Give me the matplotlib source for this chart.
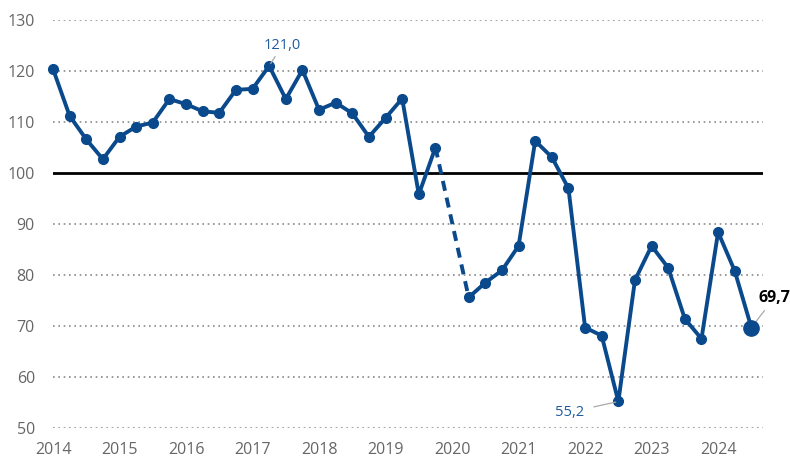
import numpy as np
import matplotlib
matplotlib.use("Agg")
import matplotlib.pyplot as plt

plt.rcParams['font.family'] = ['Open Sans', 'DejaVu Sans']

years = [2014, 2015, 2016, 2017, 2018, 2019, 2020, 2021, 2022, 2023, 2024]
# quarterly values, 2014 Q1 .. 2024 Q3 (2020 Q1 missing)
values = [120.4, 111.2, 106.6, 102.7,
          107.1, 109.1, 109.9, 114.5,
          113.5, 112.1, 111.8, 116.3,
          116.5, 121.0, 114.5, 120.2,
          112.4, 113.8, 111.7, 107.1,
          110.8, 114.6, 95.8, 105.0,
          np.nan, 75.6, 78.5, 80.9,
          85.7, 106.3, 103.1, 97.0,
          69.7, 68.1, 55.2, 79.0,
          85.7, 81.4, 71.4, 67.5,
          88.4, 80.8, 69.7]
yticks = [50, 60, 70, 80, 90, 100, 110, 120, 130]
reference = 100

blue = '#0a4a8c'
x = np.arange(len(values))
v = np.array(values)

fig = plt.figure(figsize=(7.9, 4.59), dpi=100)
ax = fig.add_axes([53/790, (459-428)/459, (763-53)/790, (428-20)/459])
ax.set_xlim(0, 42.7)
ax.set_ylim(50, 130)

for t in yticks:
    if t == reference:
        continue
    ax.axhline(t, color='#8a8a8a', lw=1.2, ls=(0, (1, 2.2)), zorder=1)
ax.axhline(reference, color='black', lw=2, zorder=2)

ax.plot(x, v, color=blue, lw=2.8, marker='o', ms=7, zorder=3,
        solid_joinstyle='round', clip_on=False)
# dashed bridge over the missing quarter
gi = np.where(np.isnan(v))[0][0]
ax.plot([gi-1, gi+1], [v[gi-1], v[gi+1]], color=blue, lw=2.8,
        ls=(0, (2.6, 1.8)), zorder=3)
ax.plot([x[-1]], [v[-1]], 'o', color=blue, ms=11, zorder=4)

def fmt(val):
    return f"{val:.1f}".replace('.', ',')

imax = int(np.nanargmax(v))
imin = int(np.nanargmin(v))
ax.annotate(fmt(v[imax]), xy=(x[imax], v[imax]), xytext=(x[imax]+0.8, v[imax]+2.6),
            color='#1f5d9e', fontsize=10.5, ha='center', va='bottom',
            arrowprops=dict(arrowstyle='-', color='#aaaaaa', lw=0.9,
                            shrinkA=1, shrinkB=2))
ax.annotate(fmt(v[imin]), xy=(x[imin], v[imin]), xytext=(x[imin]-2.05, v[imin]-2.1),
            color='#1f5d9e', fontsize=10.5, ha='right', va='center',
            arrowprops=dict(arrowstyle='-', color='#aaaaaa', lw=0.9,
                            shrinkA=5, shrinkB=2))
ax.annotate(fmt(v[-1]), xy=(x[-1], v[-1]), xytext=(28.3, 21.6),
            textcoords='offset points',
            color='black', fontsize=11.5, fontweight='bold', ha='right', va='center',
            arrowprops=dict(arrowstyle='-', color='#aaaaaa', lw=0.9,
                            relpos=(0.3, 0.0), shrinkA=2, shrinkB=4))

ax.set_yticks(yticks)
ax.set_yticklabels([str(t) for t in yticks])
ax.set_xticks([(y - years[0]) * 4 for y in years])
ax.set_xticklabels([str(y) for y in years])
ax.tick_params(axis='y', length=0, pad=13, labelsize=11.5, labelcolor='#666666')
ax.tick_params(axis='x', length=0, pad=10, labelsize=11.5, labelcolor='#666666')
for s in ax.spines.values():
    s.set_visible(False)

fig.savefig('out.png', dpi=100)
